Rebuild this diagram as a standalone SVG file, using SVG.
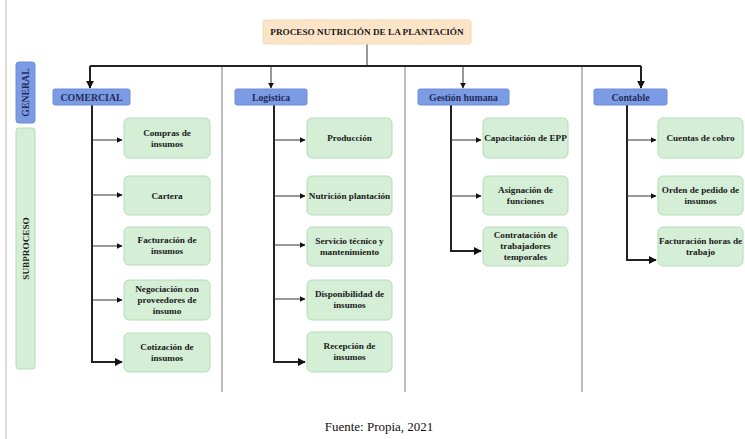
<svg xmlns="http://www.w3.org/2000/svg" width="745" height="439" viewBox="0 0 745 439">
<style>
.t{font-family:"Liberation Serif","Times New Roman",serif;font-weight:bold;font-size:9.2px;fill:#1a1a1a;text-anchor:middle}
.h{font-family:"Liberation Serif","Times New Roman",serif;font-weight:bold;font-size:9.8px;fill:#1f2d5a;text-anchor:middle}
.cap{font-family:"Liberation Serif","Times New Roman",serif;font-size:13px;fill:#111;text-anchor:middle}
.box{fill:#d5eed6;stroke:#b3deb5;stroke-width:1}
.hd{fill:#7b9be5;stroke:#6d8ed6;stroke-width:1}
.sep{stroke:#a8a8a8;stroke-width:1.5;fill:none}
.br{stroke:#333;stroke-width:1;fill:none}
.tr{stroke:#222;stroke-width:2;fill:none}
</style>
<defs>
<marker id="a" viewBox="0 0 10 10" refX="9" refY="5" markerWidth="6" markerHeight="6" markerUnits="userSpaceOnUse" orient="auto"><path d="M0,0 L10,5 L0,10 z" fill="#111"/></marker>
<marker id="b" viewBox="0 0 10 10" refX="9" refY="5" markerWidth="8" markerHeight="8" markerUnits="userSpaceOnUse" orient="auto"><path d="M0,0 L10,5 L0,10 z" fill="#111"/></marker>
</defs>
<rect width="745" height="439" fill="#ffffff"/>
<line x1="6" y1="0" x2="6" y2="439" stroke="#cfcfcf" stroke-width="1.5"/>

<g id="separators">
<line class="sep" x1="222" y1="66" x2="222" y2="392"/>
<line class="sep" x1="405" y1="66" x2="405" y2="392"/>
<line class="sep" x1="582" y1="66" x2="582" y2="392"/>
</g>

<g id="connectors">
<path class="br" d="M367,44 V66"/>
<path class="tr" d="M90,66 H641"/>
<path class="tr" d="M90,66 V88" marker-end="url(#b)"/>
<path class="br" d="M271,66 V88" marker-end="url(#a)"/>
<path class="br" d="M463,66 V88" marker-end="url(#a)"/>
<path class="tr" d="M641,66 V88" marker-end="url(#b)"/>

<path class="tr" d="M92,105 V362 H122" marker-end="url(#b)"/>
<path class="br" d="M92,140 H122" marker-end="url(#a)"/>
<path class="br" d="M92,195 H122" marker-end="url(#a)"/>
<path class="br" d="M92,246 H122" marker-end="url(#a)"/>
<path class="br" d="M92,300 H122" marker-end="url(#a)"/>

<path class="tr" d="M274,105 V362 H305" marker-end="url(#b)"/>
<path class="br" d="M274,140 H305" marker-end="url(#a)"/>
<path class="br" d="M274,196 H305" marker-end="url(#a)"/>
<path class="br" d="M274,245 H305" marker-end="url(#a)"/>
<path class="br" d="M274,299 H305" marker-end="url(#a)"/>

<path class="tr" d="M451,105 V251 H481" marker-end="url(#b)"/>
<path class="br" d="M451,140 H481" marker-end="url(#a)"/>
<path class="br" d="M451,196 H481" marker-end="url(#a)"/>

<path class="tr" d="M627,105 V260 H656" marker-end="url(#b)"/>
<path class="br" d="M627,140 H656" marker-end="url(#a)"/>
<path class="br" d="M627,196 H656" marker-end="url(#a)"/>
</g>

<g id="title">
<rect x="263" y="20" width="208" height="24" rx="3" fill="#fce4c8" stroke="#f6d6b0"/>
<text class="t" x="367" y="35">PROCESO NUTRICIÓN DE LA PLANTACIÓN</text>
</g>

<g id="general">
<rect class="hd" x="16" y="62" width="19" height="61" rx="3"/>
<text class="h" transform="translate(29,92.5) rotate(-90)">GENERAL</text>
</g>
<g id="subproceso">
<rect class="box" x="16" y="128" width="19" height="241" rx="3"/>
<text class="t" transform="translate(29,248.5) rotate(-90)">SUBPROCESO</text>
</g>

<g id="comercial"><rect class="hd" x="53" y="89" width="77" height="16" rx="2"/><text class="h" x="91.5" y="100.5">COMERCIAL</text></g>
<g id="logistica"><rect class="hd" x="235" y="89" width="72" height="16" rx="2"/><text class="h" x="271" y="100.5">Logistica</text></g>
<g id="gestion"><rect class="hd" x="418" y="89" width="91" height="16" rx="2"/><text class="h" x="463.5" y="100.5">Gestión humana</text></g>
<g id="contable"><rect class="hd" x="594" y="89" width="73" height="16" rx="2"/><text class="h" x="630.5" y="100.5">Contable</text></g>

<g id="compras"><rect class="box" x="124" y="118" width="86" height="40" rx="5"/><text class="t" x="167" y="135.5">Compras de</text><text class="t" x="167" y="146.5">insumos</text></g>
<g id="cartera"><rect class="box" x="124" y="176" width="86" height="39" rx="5"/><text class="t" x="167" y="198.5">Cartera</text></g>
<g id="facturacion"><rect class="box" x="124" y="227" width="86" height="38" rx="5"/><text class="t" x="167" y="243">Facturación de</text><text class="t" x="167" y="254">insumos</text></g>
<g id="negociacion"><rect class="box" x="124" y="280" width="86" height="40" rx="5"/><text class="t" x="167" y="292">Negociación con</text><text class="t" x="167" y="303">proveedores de</text><text class="t" x="167" y="314">insumo</text></g>
<g id="cotizacion"><rect class="box" x="124" y="333" width="86" height="39" rx="5"/><text class="t" x="167" y="350">Cotización de</text><text class="t" x="167" y="361">insumos</text></g>

<g id="produccion"><rect class="box" x="307" y="118" width="85" height="40" rx="5"/><text class="t" x="349.5" y="141">Producción</text></g>
<g id="nutricion"><rect class="box" x="307" y="176" width="85" height="39" rx="5"/><text class="t" x="349.5" y="198.5">Nutrición plantación</text></g>
<g id="servicio"><rect class="box" x="307" y="227" width="85" height="39" rx="5"/><text class="t" x="349.5" y="243.5">Servicio técnico y</text><text class="t" x="349.5" y="254.5">mantenimiento</text></g>
<g id="disponibilidad"><rect class="box" x="307" y="280" width="85" height="40" rx="5"/><text class="t" x="349.5" y="297">Disponibilidad de</text><text class="t" x="349.5" y="308">insumos</text></g>
<g id="recepcion"><rect class="box" x="307" y="332" width="85" height="40" rx="5"/><text class="t" x="349.5" y="349">Recepción de</text><text class="t" x="349.5" y="360">insumos</text></g>

<g id="capacitacion"><rect class="box" x="483" y="118" width="85" height="40" rx="5"/><text class="t" x="525.5" y="141">Capacitación de EPP</text></g>
<g id="asignacion"><rect class="box" x="483" y="176" width="85" height="39" rx="5"/><text class="t" x="525.5" y="193">Asignación de</text><text class="t" x="525.5" y="204">funciones</text></g>
<g id="contratacion"><rect class="box" x="483" y="227" width="85" height="39" rx="5"/><text class="t" x="525.5" y="238">Contratación de</text><text class="t" x="525.5" y="249">trabajadores</text><text class="t" x="525.5" y="260">temporales</text></g>

<g id="cuentas"><rect class="box" x="658" y="118" width="85" height="40" rx="5"/><text class="t" x="700.5" y="141">Cuentas de cobro</text></g>
<g id="orden"><rect class="box" x="658" y="176" width="85" height="39" rx="5"/><text class="t" x="700.5" y="193">Orden de pedido de</text><text class="t" x="700.5" y="204">insumos</text></g>
<g id="factHoras"><rect class="box" x="658" y="227" width="85" height="39" rx="5"/><text class="t" x="700.5" y="243.5">Facturación horas de</text><text class="t" x="700.5" y="254.5">trabajo</text></g>

<text class="cap" x="379" y="431">Fuente: Propia, 2021</text>
</svg>
